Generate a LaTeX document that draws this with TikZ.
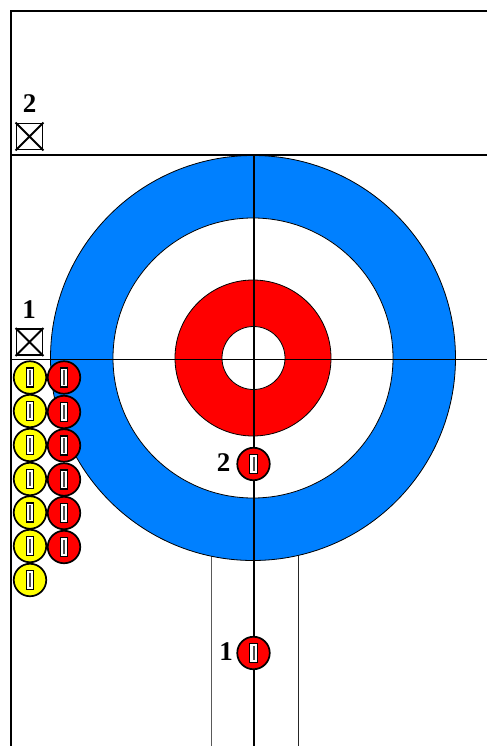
\documentclass[tikz,border=0pt]{standalone}
\usepackage{fontspec}
\setmainfont{Liberation Serif}
\definecolor{houseblue}{RGB}{0,128,255}
\definecolor{stonered}{RGB}{255,0,0}
\definecolor{stoneyellow}{RGB}{255,255,0}
\tikzset{
  ring/.style={circle,draw=black,line width=0.8pt,inner sep=0pt,minimum size=#1},
  stonebase/.style={circle,draw=black,line width=1.7pt,inner sep=0pt,minimum size=32.5pt},
  handlebox/.style={draw=black,fill=white,line width=1.2pt,inner sep=0pt,minimum width=7.5pt,minimum height=19pt},
  markbox/.style={draw=black,fill=white,line width=1.8pt,inner sep=0pt,minimum size=26pt},
  num/.style={font=\bfseries\fontsize{27}{27}\selectfont,inner sep=0pt},
  rinkline/.style={black,line width=1.7pt},
  thinline/.style={black!65,line width=1pt}
}
\newcommand{\stonemark}[4]{%
  \node[stonebase,fill=#4] (#1) at (#2,#3) {};
  \node[handlebox] (#1h) at (#2,#3) {};
  \draw[black!70,line width=2pt] ([yshift=-3pt]#1h.north) -- ([yshift=3pt]#1h.south);
}
\newcommand{\crossmark}[3]{%
  \node[markbox] (#1) at (#2,#3) {};
  \draw[black,line width=1.8pt] (#1.north west) -- (#1.south east) (#1.north east) -- (#1.south west);
}
\begin{document}
\begin{tikzpicture}[x=1pt,y=-1pt]
\useasboundingbox (0,0) rectangle (487,746);
\fill[white] (0,0) rectangle (487,746);
\coordinate (tl) at (11,11);
\coordinate (tr) at (487,11);
\coordinate (bl) at (11,746);
\coordinate (la) at (11,155);
\coordinate (ra) at (487,155);
\coordinate (lb) at (11,359.5);
\coordinate (rb) at (487,359.5);
\coordinate (ct) at (253.5,155);
\coordinate (cb) at (253.5,746);
\coordinate (sa) at (211.5,556);
\coordinate (sb) at (211.5,746);
\coordinate (sc) at (298,556);
\coordinate (sd) at (298,746);
% side lines
\draw[thinline] (sa) -- (sb);
\draw[thinline,black!85] (sc) -- (sd);
% house
\node[ring=405pt,fill=houseblue] (blue) at (253,358) {};
\node[ring=280pt,fill=white] (white) at (253,358) {};
\node[ring=156pt,fill=stonered] (red) at (253,358) {};
\node[ring=63pt,fill=white] (button) at (253.5,358) {};
% rink lines
\draw[rinkline] (tr) -- (tl) -- (bl);
\draw[rinkline,line width=1.4pt] (la) -- (ra);
\draw[rinkline,line width=1.4pt] (lb) -- (rb);
\draw[rinkline,line width=2pt] (ct) -- (cb);
% markers
\crossmark{m2}{29.5}{136.5}
\crossmark{m1}{29.5}{342}
\node[num] (n2) at (29.5,103.5) {2};
\node[num] (n1) at (29,309.5) {1};
% stones
\stonemark{y1}{30}{377.5}{stoneyellow}
\stonemark{y2}{30}{411}{stoneyellow}
\stonemark{y3}{30}{445}{stoneyellow}
\stonemark{y4}{30}{479}{stoneyellow}
\stonemark{y5}{30}{512.5}{stoneyellow}
\stonemark{y6}{30}{546}{stoneyellow}
\stonemark{y7}{30}{580}{stoneyellow}
\stonemark{r1}{64}{377.5}{stonered}
\stonemark{r2}{64}{412}{stonered}
\stonemark{r3}{64}{445.5}{stonered}
\stonemark{r4}{64}{479.5}{stonered}
\stonemark{r5}{64}{513}{stonered}
\stonemark{r6}{64}{547}{stonered}
\stonemark{p2}{253.5}{464}{stonered}
\stonemark{p1}{253.5}{653}{stonered}
\node[num] (l2) at (223.5,463) {2};
\node[num] (l1) at (226,652) {1};
\end{tikzpicture}
\end{document}
